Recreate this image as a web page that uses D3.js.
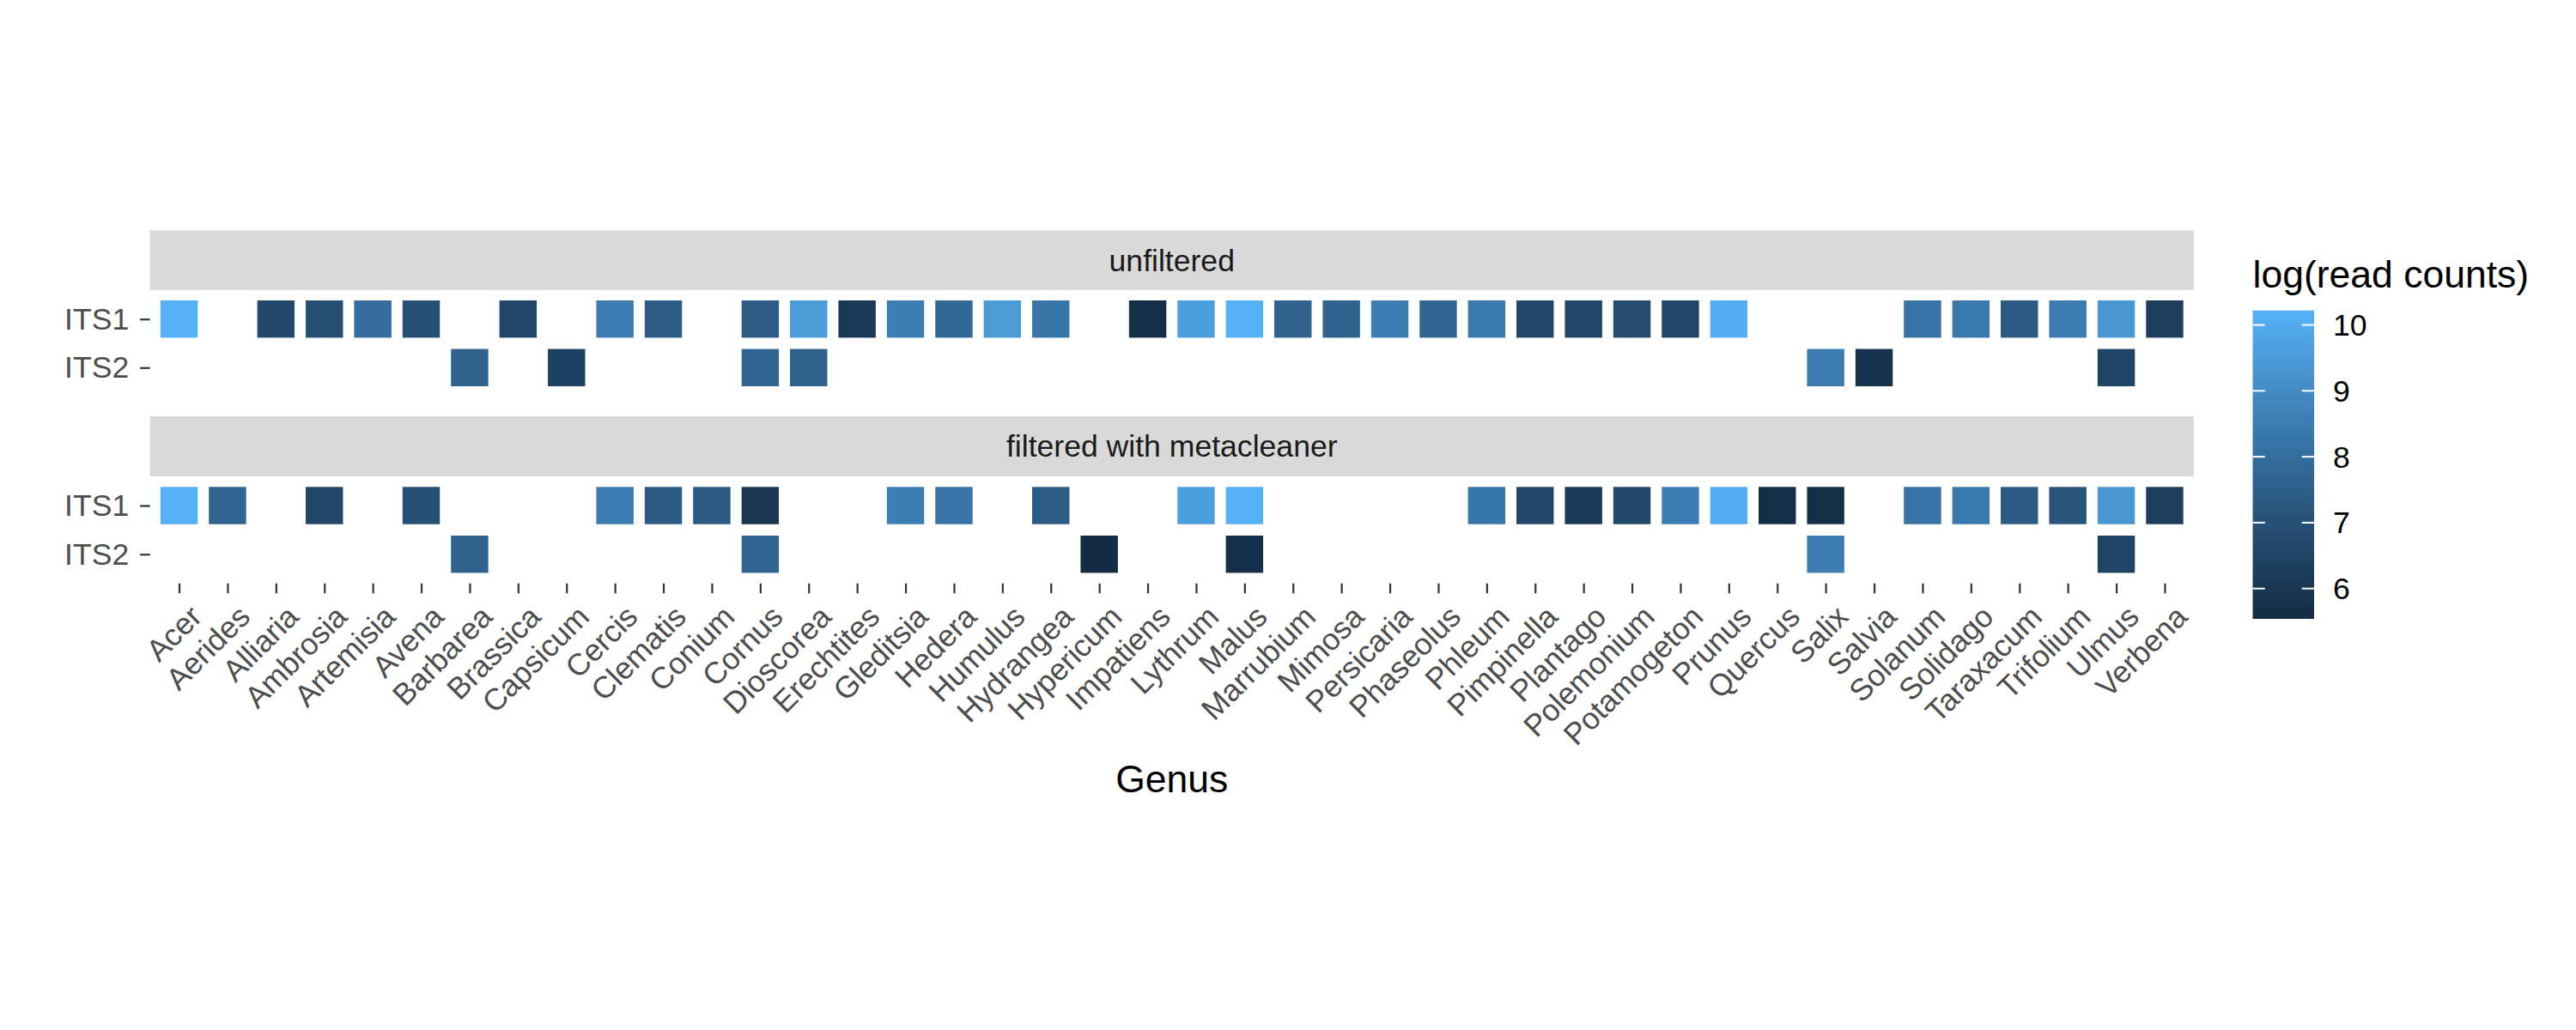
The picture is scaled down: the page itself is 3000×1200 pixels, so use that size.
<!DOCTYPE html>
<html>
<head>
<meta charset="utf-8">
<script src="https://cdn.jsdelivr.net/npm/d3@7"></script>
<style>
  body { margin: 0; background: #fff; }
  text { font-family: "Liberation Sans", Arial, Helvetica, sans-serif; }
</style>
</head>
<body>
<div class="heatmap"></div>
<script>

// genera along the x axis
var genera = ["Acer", "Aerides", "Alliaria", "Ambrosia", "Artemisia", "Avena", "Barbarea",
    "Brassica", "Capsicum", "Cercis", "Clematis", "Conium", "Cornus", "Dioscorea", "Erechtites",
    "Gleditsia", "Hedera", "Humulus", "Hydrangea", "Hypericum", "Impatiens", "Lythrum", "Malus",
    "Marrubium", "Mimosa", "Persicaria", "Phaseolus", "Phleum", "Pimpinella", "Plantago",
    "Polemonium", "Potamogeton", "Prunus", "Quercus", "Salix", "Salvia", "Solanum", "Solidago",
    "Taraxacum", "Trifolium", "Ulmus", "Verbena"];

var markers = ["ITS1", "ITS2"];
var panels = ["unfiltered", "filtered with metacleaner"];

// log(read counts), one value per genus, null = no reads
var unfilteredITS1 = [10.22, null, 6.7, 6.9, 8.0, 7.0, null, 6.6, null, 8.5, 7.4, null, 7.4, 9.5,
    6.1, 8.6, 7.8, 9.5, 8.3, null, 5.7, 9.6, 10.2, 7.6, 7.6, 8.6, 7.7, 8.4, 6.6, 6.6, 6.8, 6.6,
    10.1, null, null, null, 8.2, 8.4, 7.3, 8.5, 9.4, 6.3];
var unfilteredITS2 = [null, null, null, null, null, null, 7.6, null, 6.4, null, null, null, 7.7, 7.6,
    null, null, null, null, null, null, null, null, null, null, null, null, null, null, null, null,
    null, null, null, null, 8.5, 5.8, null, null, null, null, 6.5, null];
var filteredITS1 = [10.2, 7.7, null, 6.6, null, 7.0, null, null, null, 8.5, 7.3, 7.3, 6.0, null,
    null, 8.6, 8.2, null, 7.4, null, null, 9.6, 10.2, null, null, null, null, 8.3, 6.6, 6.1, 6.7,
    8.6, 10.1, 5.7, 5.7, null, 8.2, 8.4, 7.3, 7.1, 9.4, 6.3];
var filteredITS2 = [null, null, null, null, null, null, 7.6, null, null, null, null, null, 7.7, null,
    null, null, null, null, null, 5.54, null, null, 5.7, null, null, null, null, null, null, null,
    null, null, null, null, 8.5, null, null, null, null, null, 6.5, null];

var legendTicks = [6, 7, 8, 9, 10];

// long-format table for the tiles
var series = [
    {panel: panels[0], marker: "ITS1", values: unfilteredITS1},
    {panel: panels[0], marker: "ITS2", values: unfilteredITS2},
    {panel: panels[1], marker: "ITS1", values: filteredITS1},
    {panel: panels[1], marker: "ITS2", values: filteredITS2}
];
var tiles = [];
series.forEach(s => {
    s.values.forEach((v, i) => {
        if (v !== null) tiles.push({panel: s.panel, marker: s.marker, genus: genera[i], value: v});
    });
});

var width = 3000, height = 1200;
var textSize = 35.6, titleSize = 44.5;

var svg = d3.select(".heatmap")
    .append("svg")
    .attr("width", width)
    .attr("height", height);

svg.append("rect").attr("width", width).attr("height", height).attr("fill", "#fff");

var panelLeft = 174.7, panelRight = 2554.8;
var panelBoxes = [
    {name: panels[0], stripTop: 268.3, top: 337.8, bottom: 462.2},
    {name: panels[1], stripTop: 485.0, top: 555.0, bottom: 679.7}
];

var x = d3.scalePoint().domain(genera).range([panelLeft, panelRight]).padding(0.6);
var tileSize = x.step() * 0.77;

var extent = d3.extent(tiles, d => d.value);
var color = d3.scaleLinear()
    .domain(extent)
    .range(["#132B43", "#56B1F7"])
    .interpolate(d3.interpolateLab);

panelBoxes.forEach(p => {
    var y = d3.scalePoint().domain(markers).range([p.top, p.bottom]).padding(0.6);
    var g = svg.append("g");

    // strip
    g.append("rect")
        .attr("x", panelLeft).attr("y", p.stripTop)
        .attr("width", panelRight - panelLeft).attr("height", p.top - p.stripTop)
        .attr("fill", "#D9D9D9");
    g.append("text")
        .attr("x", (panelLeft + panelRight) / 2)
        .attr("y", (p.stripTop + p.top) / 2)
        .attr("dy", "0.35em")
        .attr("text-anchor", "middle")
        .attr("font-size", textSize)
        .attr("fill", "#1A1A1A")
        .text(p.name);

    g.selectAll(".tile")
        .data(tiles.filter(d => d.panel === p.name)).enter()
        .append("rect")
        .attr("class", "tile")
        .attr("x", d => x(d.genus) - tileSize / 2)
        .attr("y", d => y(d.marker) - tileSize / 2)
        .attr("width", tileSize)
        .attr("height", tileSize)
        .attr("fill", d => color(d.value));

    // y axis
    var yAxis = g.append("g")
        .attr("transform", "translate(" + panelLeft + ",0)")
        .call(d3.axisLeft(y).tickSize(11.5).tickPadding(13));
    yAxis.select(".domain").remove();
    yAxis.selectAll("line").attr("stroke", "#333").attr("stroke-width", 2.2);
    yAxis.selectAll("text")
        .attr("font-size", textSize)
        .attr("font-family", "Liberation Sans, Arial, sans-serif")
        .attr("fill", "#4D4D4D");
});

// x axis under the bottom panel
var xAxis = svg.append("g")
    .attr("transform", "translate(0," + panelBoxes[1].bottom + ")")
    .call(d3.axisBottom(x).tickSize(11.5));
xAxis.select(".domain").remove();
xAxis.selectAll("line").attr("stroke", "#333").attr("stroke-width", 2.2);
xAxis.selectAll("text")
    .attr("font-size", textSize)
    .attr("font-family", "Liberation Sans, Arial, sans-serif")
    .attr("fill", "#4D4D4D")
    .attr("text-anchor", "end")
    .attr("y", 0)
    .attr("dy", 0)
    .attr("transform", "translate(28,41) rotate(-45)");

svg.append("text")
    .attr("x", (panelLeft + panelRight) / 2)
    .attr("y", 922.7)
    .attr("text-anchor", "middle")
    .attr("font-size", titleSize)
    .attr("fill", "#000")
    .text("Genus");

// colour bar legend
var barLeft = 2623.5, barWidth = 71.5, barTop = 361.7, barBottom = 721;
var legendY = d3.scaleLinear().domain(extent).range([barBottom, barTop]);

svg.append("text")
    .attr("x", barLeft)
    .attr("y", 335)
    .attr("font-size", titleSize)
    .attr("fill", "#000")
    .text("log(read counts)");

var grad = svg.append("defs").append("linearGradient")
    .attr("id", "bar-grad")
    .attr("x1", 0).attr("y1", 1).attr("x2", 0).attr("y2", 0);
d3.range(0, 1.0001, 0.05).forEach(t => {
    grad.append("stop")
        .attr("offset", t)
        .attr("stop-color", color(extent[0] + t * (extent[1] - extent[0])));
});

svg.append("rect")
    .attr("x", barLeft).attr("y", barTop)
    .attr("width", barWidth).attr("height", barBottom - barTop)
    .attr("fill", "url(#bar-grad)");

var tickLen = 14.3;
legendTicks.forEach(t => {
    var ty = legendY(t);
    svg.append("line")
        .attr("x1", barLeft).attr("x2", barLeft + tickLen)
        .attr("y1", ty).attr("y2", ty)
        .attr("stroke", "#fff").attr("stroke-width", 2);
    svg.append("line")
        .attr("x1", barLeft + barWidth - tickLen).attr("x2", barLeft + barWidth)
        .attr("y1", ty).attr("y2", ty)
        .attr("stroke", "#fff").attr("stroke-width", 2);
    svg.append("text")
        .attr("x", 2717)
        .attr("y", ty)
        .attr("dy", "0.35em")
        .attr("font-size", textSize)
        .attr("fill", "#000")
        .text(t);
});

</script>
</body>
</html>
